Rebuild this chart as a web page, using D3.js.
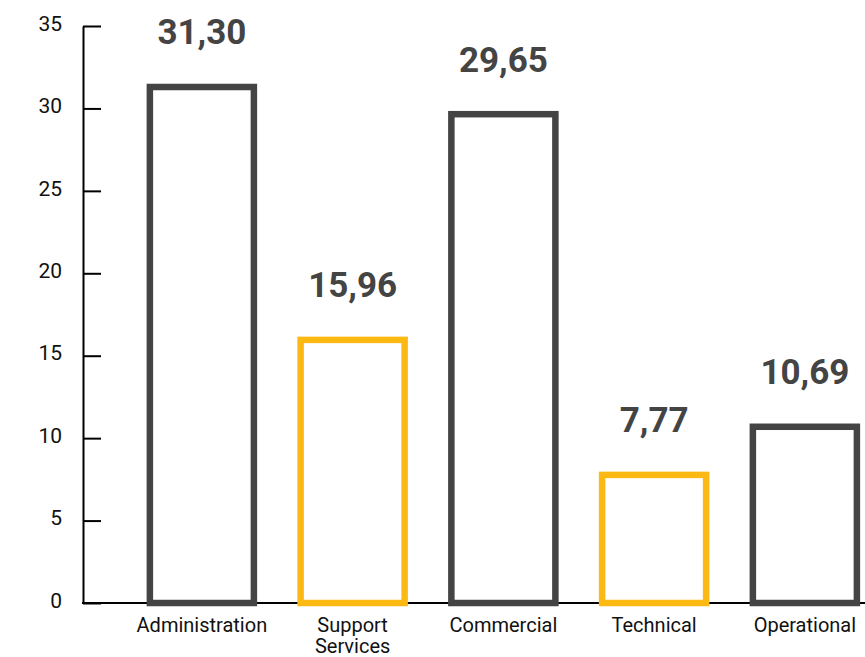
<!DOCTYPE html>
<html>
<head>
<meta charset="utf-8">
<script src="https://cdn.jsdelivr.net/npm/d3@7"></script>
<style>
  html, body { margin: 0; padding: 0; background: #ffffff; }
  svg { display: block; font-family: Roboto, "Noto Sans", sans-serif; }
</style>
</head>
<body>
<svg id="chart" width="865" height="657"></svg>
<script>
// Average values per department
const categories = ["Administration", "Support Services", "Commercial", "Technical", "Operational"];
const values = [31.30, 15.96, 29.65, 7.77, 10.69];
const yTicks = [0, 5, 10, 15, 20, 25, 30, 35];

const DARK = "#444444";
const YELLOW = "#FDB913";

const svg = d3.select("#chart");

const x = d3.scaleBand()
  .domain(categories)
  .range([126.5, 880.25])
  .paddingInner(0.31)
  .paddingOuter(0.155);

const y = d3.scaleLinear()
  .domain([0, 35])
  .range([603, 26]);

const color = d3.scaleOrdinal().domain(categories).range([DARK, YELLOW]);

const fmt = d3.formatLocale({ decimal: ",", thousands: ".", grouping: [3], currency: ["", ""] }).format(".2f");

const axisX = 83;

// Y axis with inward ticks
const yAxis = svg.append("g")
  .attr("transform", `translate(${axisX},0)`)
  .call(d3.axisLeft(y).tickValues(yTicks).tickSize(-18).tickPadding(21).tickSizeOuter(0));
yAxis.select(".domain").attr("stroke", "#000").attr("stroke-width", 2);
yAxis.selectAll(".tick line").attr("stroke", "#000").attr("stroke-width", 2);
yAxis.selectAll(".tick text")
  .attr("font-size", 21)
  .attr("fill", "#111")
  .attr("font-family", "Roboto, sans-serif")
  .attr("dy", "0.2em");

// Baseline
svg.append("line")
  .attr("x1", axisX - 1).attr("x2", 865)
  .attr("y1", y(0)).attr("y2", y(0))
  .attr("stroke", "#000").attr("stroke-width", 2);

// Outlined bars
svg.append("g").selectAll("rect")
  .data(categories)
  .join("rect")
  .attr("x", d => x(d))
  .attr("y", (d, i) => y(values[i]))
  .attr("width", x.bandwidth())
  .attr("height", (d, i) => y(0) - y(values[i]))
  .attr("fill", "none")
  .attr("stroke", d => color(d))
  .attr("stroke-width", 6.5);

// Value labels
svg.append("g").selectAll("text")
  .data(categories)
  .join("text")
  .attr("x", d => x(d) + x.bandwidth() / 2)
  .attr("y", (d, i) => y(values[i]) - 42.5)
  .attr("text-anchor", "middle")
  .attr("font-size", 35)
  .attr("font-weight", 700)
  .attr("fill", DARK)
  .text((d, i) => fmt(values[i]));

// Category labels (wrapped on spaces)
const catLabels = svg.append("g").selectAll("text")
  .data(categories)
  .join("text")
  .attr("x", d => x(d) + x.bandwidth() / 2)
  .attr("y", 632)
  .attr("text-anchor", "middle")
  .attr("font-size", 20)
  .attr("fill", "#111");
catLabels.each(function(d) {
  const words = d.split(" ");
  const t = d3.select(this);
  const cx = x(d) + x.bandwidth() / 2;
  words.forEach((w, k) => {
    t.append("tspan").attr("x", cx).attr("dy", k === 0 ? 0 : 21).text(w);
  });
});
</script>
</body>
</html>
